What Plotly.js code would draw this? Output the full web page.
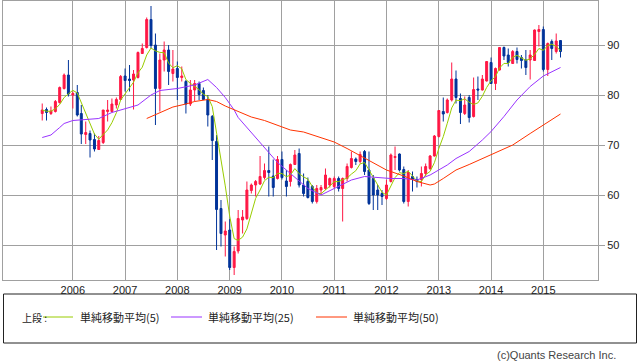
<!DOCTYPE html>
<html>
<head>
<meta charset="utf-8">
<script src="https://cdn.plot.ly/plotly-3.0.1.min.js"></script>
<style>html,body{margin:0;padding:0;background:#fff;}#chart{width:638px;height:362px;}</style>
</head>
<body>
<div id="chart"></div>
<script>
// Monthly candles, Jun 2005 - May 2015
const months = [
  '2005-06','2005-07','2005-08','2005-09','2005-10','2005-11','2005-12',
  '2006-01','2006-02','2006-03','2006-04','2006-05','2006-06','2006-07','2006-08','2006-09','2006-10','2006-11','2006-12',
  '2007-01','2007-02','2007-03','2007-04','2007-05','2007-06','2007-07','2007-08','2007-09','2007-10','2007-11','2007-12',
  '2008-01','2008-02','2008-03','2008-04','2008-05','2008-06','2008-07','2008-08','2008-09','2008-10','2008-11','2008-12',
  '2009-01','2009-02','2009-03','2009-04','2009-05','2009-06','2009-07','2009-08','2009-09','2009-10','2009-11','2009-12',
  '2010-01','2010-02','2010-03','2010-04','2010-05','2010-06','2010-07','2010-08','2010-09','2010-10','2010-11','2010-12',
  '2011-01','2011-02','2011-03','2011-04','2011-05','2011-06','2011-07','2011-08','2011-09','2011-10','2011-11','2011-12',
  '2012-01','2012-02','2012-03','2012-04','2012-05','2012-06','2012-07','2012-08','2012-09','2012-10','2012-11','2012-12',
  '2013-01','2013-02','2013-03','2013-04','2013-05','2013-06','2013-07','2013-08','2013-09','2013-10','2013-11','2013-12',
  '2014-01','2014-02','2014-03','2014-04','2014-05','2014-06','2014-07','2014-08','2014-09','2014-10','2014-11','2014-12',
  '2015-01','2015-02','2015-03','2015-04','2015-05'
];
const openV = [
  76.3,77.1,76.3,76.7,78.5,81.3,84.0,
  80.0,80.5,76.3,72.1,72.3,71.1,69.1,70.5,76.7,76.7,78.0,79.1,
  83.8,83.2,83.0,83.5,88.3,89.5,95.1,90.0,81.3,87.0,89.0,84.3,
  85.3,83.5,82.7,78.2,81.0,82.3,80.9,79.1,75.7,70.7,57.3,52.0,
  53.0,45.5,48.8,55.0,55.3,60.9,62.0,62.2,63.5,64.9,63.8,63.3,
  67.1,62.8,62.7,66.1,68.3,62.0,62.7,61.7,58.7,61.0,61.3,62.0,
  61.7,63.3,61.3,63.3,65.5,67.2,66.7,68.7,65.0,63.3,61.0,60.3,
  59.3,62.7,67.5,68.2,65.1,58.7,63.7,63.1,63.1,64.3,65.3,67.8,
  71.7,76.7,76.5,79.0,83.2,79.3,76.3,79.5,75.7,81.2,81.0,82.8,
  86.5,82.3,85.0,89.5,88.0,86.3,88.7,87.5,87.0,87.0,86.9,92.7,
  93.1,85.1,90.7,88.7,90.9
];
const highV = [
  78.3,77.5,77.7,79.0,81.7,84.3,87.0,
  80.7,82.0,78.0,74.7,72.9,72.3,71.8,77.0,79.0,79.3,79.5,84.0,
  85.3,86.0,85.0,88.7,90.3,95.5,97.8,92.3,88.3,90.7,90.0,89.0,
  86.7,85.7,83.0,83.0,83.0,82.7,81.5,80.0,76.0,72.0,59.0,54.7,
  55.2,49.7,57.0,57.0,62.7,62.3,63.0,67.8,66.3,69.7,67.1,67.8,
  68.7,65.0,66.3,69.0,69.3,64.3,63.5,62.0,62.0,62.0,65.3,63.5,
  63.7,63.7,63.5,66.3,68.7,67.5,68.7,69.0,68.7,64.0,62.0,61.0,
  63.0,68.3,69.7,68.3,65.7,65.0,64.7,63.7,65.7,66.3,68.0,72.0,
  77.0,79.5,79.3,86.5,84.9,80.3,79.7,80.0,83.5,83.7,84.0,86.8,
  87.5,85.5,89.6,89.7,89.3,89.0,89.5,88.0,89.0,89.0,93.1,94.0,
  93.7,90.5,91.1,92.3,91.0
];
const lowV = [
  74.9,74.9,76.0,76.5,78.3,81.1,79.7,
  77.3,75.7,70.2,70.2,67.5,68.7,69.0,70.2,74.7,76.5,77.3,79.0,
  80.7,80.7,77.1,83.3,88.2,89.3,89.3,74.0,76.7,84.7,82.0,82.7,
  79.0,82.7,76.3,77.8,78.7,79.0,79.0,73.7,67.0,49.0,49.7,47.7,
  45.0,44.0,48.3,52.3,55.0,60.3,59.7,62.0,63.1,59.7,59.7,63.1,
  63.1,59.7,61.7,66.0,61.5,59.7,59.3,58.3,58.3,60.0,61.0,61.5,
  61.3,60.7,54.7,62.7,65.3,66.0,66.3,64.0,58.0,57.0,57.0,58.0,
  59.0,62.5,65.0,64.7,58.3,57.7,60.7,61.5,61.7,63.8,65.0,67.7,
  71.5,74.7,76.3,78.7,78.3,74.2,76.0,74.5,75.5,79.0,80.9,82.7,
  82.2,81.0,84.9,87.0,85.7,86.2,86.3,85.3,84.0,83.1,86.8,89.7,
  84.7,83.8,87.0,88.3,87.5
];
const closeV = [
  77.0,76.5,76.8,78.7,81.5,84.0,80.2,
  80.3,76.0,72.2,72.5,71.0,69.2,70.9,77.0,77.0,78.2,79.1,83.7,
  82.9,82.9,84.2,88.5,89.3,95.1,89.9,81.3,87.0,89.0,84.7,85.2,
  83.5,83.8,78.2,81.0,82.3,80.1,79.1,76.0,70.9,57.1,52.3,52.8,
  45.5,48.7,55.3,55.6,61.0,62.0,62.7,63.7,64.9,64.5,61.5,67.1,
  63.5,61.7,66.1,68.0,62.0,60.3,59.5,58.7,61.3,61.5,64.0,63.3,
  63.3,61.3,63.3,65.7,67.3,66.7,68.1,64.7,58.3,60.0,60.0,59.7,
  62.0,68.0,67.7,65.0,58.7,64.5,63.1,62.7,64.3,65.7,67.8,71.8,
  76.9,76.2,79.0,83.2,79.5,76.5,78.0,75.5,81.1,81.0,83.2,86.7,
  82.3,85.3,89.5,87.8,86.5,88.7,87.1,86.9,85.5,88.0,93.0,93.1,
  85.1,90.3,89.3,90.8,88.7
];

// 25-month and 50-month simple moving averages
const ma25Dates = ['2005-06','2005-08','2005-10','2005-11','2006-01','2006-04','2006-07','2006-10','2007-01','2007-04','2007-07','2007-09','2008-01','2008-05','2008-08','2008-10','2008-12','2009-02','2009-03','2009-06','2009-08','2009-10','2009-12','2010-03','2010-05','2010-07','2010-10','2011-01','2011-05','2011-08','2011-11','2012-02','2012-05','2012-08','2012-11','2013-01','2013-03','2013-05','2013-08','2013-11','2014-01','2014-04','2014-07','2014-10','2015-01','2015-05'];
const ma25Vals  = [71.5,72.0,73.5,74.3,74.9,75.1,75.3,76.5,77.3,78.0,80.0,80.9,81.3,82.0,83.1,81.5,79.5,77.0,75.5,72.5,70.5,68.5,66.5,64.3,62.7,61.3,60.0,61.3,63.0,63.7,63.5,63.3,63.3,63.0,64.0,65.0,66.0,67.3,68.7,71.0,72.7,75.7,79.0,81.7,83.8,85.5];
const ma50Dates = ['2007-06','2007-09','2007-12','2008-03','2008-05','2008-08','2008-10','2008-12','2009-03','2009-06','2009-09','2009-12','2010-03','2010-06','2010-09','2011-01','2011-04','2011-07','2011-10','2012-01','2012-05','2012-08','2012-11','2012-12','2013-02','2013-05','2013-08','2014-01','2014-06','2014-10','2015-01','2015-05'];
const ma50Vals  = [75.3,76.4,77.6,78.2,78.7,79.1,78.7,77.8,76.7,75.6,74.9,74.0,73.0,72.6,71.8,70.6,69.3,67.9,66.5,65.0,63.8,62.7,62.0,62.2,63.3,65.0,66.1,68.0,70.0,72.3,74.0,76.2];

const xTickYears = ['2006','2007','2008','2009','2010','2011','2012','2013','2014','2015'];
const yTicks = [50, 60, 70, 80, 90];
const legendLabels = ['単純移動平均(5)', '単純移動平均(25)', '単純移動平均(50)'];
const lineColors = ['#99cc00', '#9933ff', '#ff3300'];

// simple 5-month moving average of the closes
const ma5 = closeV.map((_, i) => {
  const s = closeV.slice(Math.max(0, i - 4), i + 1);
  return s.reduce((a, b) => a + b, 0) / s.length;
});

const traces = [
  {
    type: 'candlestick', x: months, open: openV, high: highV, low: lowV, close: closeV,
    increasing: {line: {color: '#ff1744', width: 1}, fillcolor: '#ff1744'},
    decreasing: {line: {color: '#003399', width: 1}, fillcolor: '#003399'},
    whiskerwidth: 0, showlegend: false, hoverinfo: 'skip'
  },
  {type: 'scatter', mode: 'lines', x: months, y: ma5, line: {color: lineColors[0], width: 1}, showlegend: false, hoverinfo: 'skip'},
  {type: 'scatter', mode: 'lines', x: ma25Dates, y: ma25Vals, line: {color: lineColors[1], width: 1}, showlegend: false, hoverinfo: 'skip'},
  {type: 'scatter', mode: 'lines', x: ma50Dates, y: ma50Vals, line: {color: lineColors[2], width: 1}, showlegend: false, hoverinfo: 'skip'}
];

// pixel -> paper helpers for the legend panel (plot area x:3..598, y:1..280)
const PX0 = 3, PW = 595, PY1 = 280, PH = 279;
const px = v => (v - PX0) / PW;
const py = v => (PY1 - v) / PH;

const legY = 317;
const lineSeg = [[43, 73], [171, 202], [316, 347]];
const textX = [78, 206, 351];

const shapes = [
  {type: 'rect', xref: 'paper', yref: 'paper', x0: px(3.5), x1: px(636.5), y0: py(343), y1: py(294),
   line: {color: '#222', width: 1}, fillcolor: 'rgba(0,0,0,0)'}
];
const annotations = [
  {xref: 'paper', yref: 'paper', x: px(20), y: py(legY), xanchor: 'left', yanchor: 'middle', showarrow: false,
   text: '上段 :', font: {family: 'Noto Sans CJK JP', size: 10, color: '#222'}},
  {xref: 'paper', yref: 'paper', x: px(618), y: py(355), xanchor: 'right', yanchor: 'middle', showarrow: false,
   text: '(c)Quants Research Inc.', font: {family: 'Liberation Sans', size: 11, color: '#444'}}
];
for (let i = 0; i < 3; i++) {
  shapes.push({type: 'line', xref: 'paper', yref: 'paper', x0: px(lineSeg[i][0]), x1: px(lineSeg[i][1]),
    y0: py(legY), y1: py(legY), line: {color: lineColors[i], width: 1}});
  annotations.push({xref: 'paper', yref: 'paper', x: px(textX[i]), y: py(legY), xanchor: 'left', yanchor: 'middle',
    showarrow: false, text: legendLabels[i], font: {family: 'Noto Sans CJK JP', size: 11, color: '#222'}});
}

const layout = {
  width: 638, height: 362,
  margin: {l: 3, r: 40, t: 1, b: 82, pad: 0},
  paper_bgcolor: '#ffffff', plot_bgcolor: '#ffffff',
  showlegend: false,
  xaxis: {
    type: 'date', range: ['2004-08-31', '2016-01-18'],
    tickmode: 'array', tickvals: xTickYears.map(y => y + '-01-01'), ticktext: xTickYears,
    showgrid: true, gridcolor: '#a0a0a0', gridwidth: 1,
    showline: true, mirror: true, linecolor: '#a0a0a0', linewidth: 1,
    ticks: '', zeroline: false,
    tickfont: {family: 'Liberation Sans', size: 11, color: '#222'},
    rangeslider: {visible: false}, fixedrange: true
  },
  yaxis: {
    side: 'right', range: [43, 98.8], tickmode: 'array', tickvals: yTicks, ticktext: yTicks.map(String),
    showgrid: true, gridcolor: '#a0a0a0', gridwidth: 1,
    showline: true, mirror: true, linecolor: '#a0a0a0', linewidth: 1,
    ticks: 'outside', ticklen: 6, tickcolor: '#a0a0a0', tickwidth: 1,
    zeroline: false,
    tickfont: {family: 'Liberation Sans', size: 11, color: '#222'},
    fixedrange: true
  },
  shapes: shapes,
  annotations: annotations
};

Plotly.newPlot('chart', traces, layout, {displayModeBar: false, staticPlot: true});
</script>
</body>
</html>
